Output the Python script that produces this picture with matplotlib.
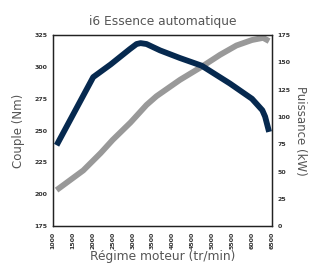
import matplotlib
matplotlib.use("Agg")
import matplotlib.pyplot as plt

rpm_torque = [1090, 2010, 2450, 2930, 3100, 3200, 3350, 3690, 4190, 4735, 5445, 6000, 6260, 6330, 6430]
torque = [238.5, 292, 302, 314, 318, 318.7, 318, 313, 307, 301, 287, 275, 266, 261, 249]
rpm_power = [1090, 1760, 2200, 2500, 2950, 3350, 3600, 4190, 4735, 5200, 5610, 6000, 6280, 6430]
power = [33, 51, 67, 79, 95, 111, 119, 134, 146, 157, 165.5, 170.5, 172.5, 169.5]

x_ticks = [1000, 1500, 2000, 2500, 3000, 3500, 4000, 4500, 5000, 5500, 6000, 6500]
left_ticks = [175, 200, 225, 250, 275, 300, 325]
right_ticks = [0, 25, 50, 75, 100, 125, 150, 175]

navy = "#06294f"
grey = "#999999"
txt = "#555555"

fig = plt.figure(figsize=(3.10, 2.66), dpi=100)
ax = fig.add_axes([0.171, 0.150, 0.706, 0.718])
ax2 = ax.twinx()

ax.plot(rpm_torque, torque, color=navy, lw=4.2, solid_capstyle="butt", solid_joinstyle="round", zorder=3)
ax2.plot(rpm_power, power, color=grey, lw=4.2, solid_capstyle="butt", solid_joinstyle="round")
ax.set_zorder(ax2.get_zorder() + 1)
ax.patch.set_visible(False)

ax.set_xlim(1000, 6500)
ax.set_ylim(175, 325)
ax2.set_ylim(0, 175)
ax.set_xticks(x_ticks)
ax.set_xticklabels([str(v) for v in x_ticks], rotation=90, fontsize=4.5, fontweight="bold", color="#333333")
ax.set_yticks(left_ticks)
ax.set_yticklabels([str(v) for v in left_ticks], fontsize=4.5, fontweight="bold", color="#333333")
ax2.set_yticks(right_ticks)
ax2.set_yticklabels([str(v) for v in right_ticks], fontsize=4.5, fontweight="bold", color="#333333")
for a in (ax, ax2):
    a.tick_params(length=0, pad=4)
    for s in a.spines.values():
        s.set_color("#222222")
        s.set_linewidth(0.9)

ax.set_xlabel("Régime moteur (tr/min)", fontsize=8.8, color=txt, labelpad=1)
ax.set_ylabel("Couple (Nm)", fontsize=8.5, color=txt, labelpad=7)
ax2.set_ylabel("Puissance (kW)", fontsize=8.5, color=txt, rotation=270, labelpad=12)
ax.set_title("i6 Essence automatique", fontsize=8.8, color=txt, pad=7)

fig.savefig("out.png", dpi=100)
